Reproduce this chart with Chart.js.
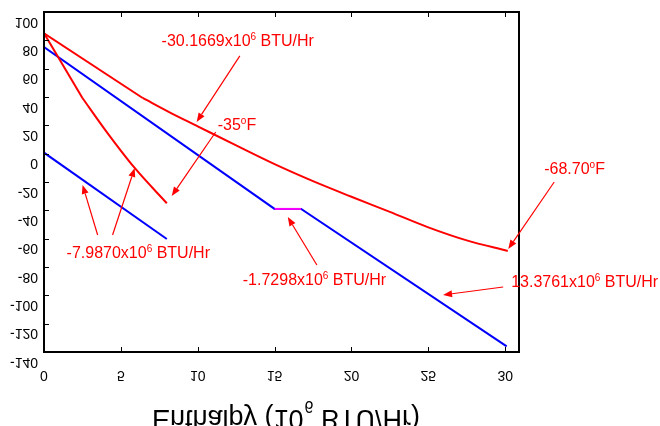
<!DOCTYPE html>
<html>
<head>
<meta charset="utf-8">
<script src="https://cdn.jsdelivr.net/npm/chart.js@4.4.0/dist/chart.umd.min.js"></script>
<style>
  html, body { margin: 0; padding: 0; background: #fff; }
  canvas { display: block; }
</style>
</head>
<body>
<canvas id="chart" width="660" height="426"></canvas>
<script>
// Long red curve (ends at -68.70 F), kink at the second point
const redLongX = [0, 6.42, 8.2, 10, 12.5, 15, 17.5, 20, 22.5, 25, 27.5, 30.17];
const redLongY = [85.0, 39.3, 29.0, 19.3, 5.8, -7.4, -19.4, -30.4, -41.1, -52.0, -61.2, -68.7];

// Short steep red curve (ends at -35 F), kink at the second point
const redShortX = [0, 2.5, 4, 5.9, 7.99];
const redShortY = [85.0, 39.3, 16.5, -10.1, -35.0];

// Long blue line with the flat part
const blueLongX = [0, 15.0, 16.73, 30.1];
const blueLongY = [75.3, -39.0, -39.0, -136.0];

// Flat part drawn in magenta
const flatX = [15.0, 16.73];
const flatY = [-39.0, -39.0];

// Short blue line
const blueShortX = [0, 7.99];
const blueShortY = [0.7, -60.2];

// Axis ticks
const xTicks = [0, 5, 10, 15, 20, 25, 30];
const yTicks = [100, 80, 60, 40, 20, 0, -20, -40, -60, -80, -100, -120, -140];

// Notes: text (^ marks superscript), where it starts, arrows from -> to (data units)
const noteText = [
	'-30.1669x10^6^ BTU/Hr',
	'-35^o^F',
	'-7.9870x10^6^ BTU/Hr',
	'-1.7298x10^6^ BTU/Hr',
	'-68.70^o^F',
	'13.3761x10^6^ BTU/Hr',
];
const noteAt = [[7.65, 76.0], [11.3, 16.7], [1.47, -73.6], [12.93, -92.7], [32.54, -14.3], [30.39, -94.1]];
const arrowFrom = [[12.74, 69.0], [11.17, 15.3], [3.49, -57.4], [4.46, -57.4], [17.75, -78.6], [33.19, -20.0], [29.87, -94.1]];
const arrowTo = [[9.93, 22.4], [8.31, -29.9], [2.51, -22.1], [5.9, -10.1], [15.86, -44.7], [30.2, -67.3], [25.96, -99.7]];

const FONT = '"Liberation Sans", Arial, sans-serif';

const toPoints = (xs, ys) => xs.map((x, i) => ({x: x, y: ys[i]}));

const makeSet = (xs, ys, color, order, smooth) => ({
	data: toPoints(xs, ys),
	borderColor: color,
	borderWidth: 2,
	pointRadius: 0,
	tension: 0,
	cubicInterpolationMode: smooth ? 'monotone' : 'default',
	fill: false,
	order: order,
});

// text drawn upside down (as in the original picture)
const flipText = (ctx, text, x, y) => {
	ctx.save();
	ctx.translate(x, y);
	ctx.scale(1, -1);
	ctx.fillText(text, 0, 0);
	ctx.restore();
};

const drawRich = (ctx, text, x, y, size) => {
	let cx = x;
	text.split('^').forEach((part, i) => {
		const sup = i % 2 == 1;
		ctx.font = `${sup ? Math.round(size * 0.62) : size}px ${FONT}`;
		ctx.fillText(part, cx, sup ? y - size * 0.38 : y);
		cx += ctx.measureText(part).width;
	});
};

const drawArrow = (ctx, x1, y1, x2, y2) => {
	const ang = Math.atan2(y2 - y1, x2 - x1);
	const len = 9;
	const half = 3.5;
	ctx.beginPath();
	ctx.moveTo(x1, y1);
	ctx.lineTo(x2 - Math.cos(ang) * len, y2 - Math.sin(ang) * len);
	ctx.stroke();
	ctx.beginPath();
	ctx.moveTo(x2, y2);
	ctx.lineTo(x2 - Math.cos(ang) * len - Math.sin(ang) * half, y2 - Math.sin(ang) * len + Math.cos(ang) * half);
	ctx.lineTo(x2 - Math.cos(ang) * len + Math.sin(ang) * half, y2 - Math.sin(ang) * len - Math.cos(ang) * half);
	ctx.closePath();
	ctx.fill();
};

const framePlugin = {
	id: 'frame',
	afterDraw: (chart) => {
		const ctx = chart.ctx;
		const area = chart.chartArea;
		const xs = chart.scales.x;
		const ys = chart.scales.y;
		ctx.save();

		// ticks pointing inwards
		ctx.strokeStyle = '#000';
		ctx.lineWidth = 1;
		ctx.beginPath();
		yTicks.forEach((v) => {
			const py = Math.round(ys.getPixelForValue(v)) + 0.5;
			ctx.moveTo(area.left, py);
			ctx.lineTo(area.left + 5, py);
		});
		xTicks.forEach((v) => {
			const px = Math.round(xs.getPixelForValue(v)) + 0.5;
			ctx.moveTo(px, area.bottom);
			ctx.lineTo(px, area.bottom - 5);
			ctx.moveTo(px, area.top);
			ctx.lineTo(px, area.top + 5);
		});
		ctx.stroke();

		// box
		ctx.lineWidth = 2;
		ctx.strokeRect(area.left, area.top, area.right - area.left, area.bottom - area.top);

		// tick labels
		ctx.fillStyle = '#000';
		ctx.font = `14px ${FONT}`;
		ctx.textBaseline = 'middle';
		ctx.textAlign = 'right';
		yTicks.forEach((v) => flipText(ctx, String(v), area.left - 6, ys.getPixelForValue(v) + 9.5));
		ctx.textAlign = 'center';
		xTicks.forEach((v) => flipText(ctx, String(v), xs.getPixelForValue(v), area.bottom + 23));

		// axis title, cut by the bottom edge
		ctx.textAlign = 'left';
		ctx.textBaseline = 'alphabetic';
		let tx = 152;
		ctx.font = `27px ${FONT}`;
		flipText(ctx, 'Enthalpy (10', tx, 410);
		tx += ctx.measureText('Enthalpy (10').width;
		ctx.font = `16px ${FONT}`;
		flipText(ctx, '6', tx + 1, 401);
		tx += ctx.measureText('6').width + 1;
		ctx.font = `27px ${FONT}`;
		flipText(ctx, ' BTU/Hr)', tx, 410);

		// red notes and arrows
		ctx.fillStyle = '#ff0000';
		ctx.strokeStyle = '#ff0000';
		ctx.lineWidth = 1.2;
		noteText.forEach((t, i) => {
			drawRich(ctx, t, xs.getPixelForValue(noteAt[i][0]), ys.getPixelForValue(noteAt[i][1]), 16);
		});
		arrowFrom.forEach((a, i) => {
			const b = arrowTo[i];
			drawArrow(
				ctx,
				xs.getPixelForValue(a[0]),
				ys.getPixelForValue(a[1]),
				xs.getPixelForValue(b[0]),
				ys.getPixelForValue(b[1]),
			);
		});
		ctx.restore();
	},
};

new Chart(document.getElementById('chart'), {
	type: 'line',
	data: {
		datasets: [
			makeSet(flatX, flatY, '#ff00ff', 0, false),
			// straight part up to the kink, then a smooth curve
			makeSet(redLongX.slice(0, 2), redLongY.slice(0, 2), '#ff0000', 1, false),
			makeSet(redLongX.slice(1), redLongY.slice(1), '#ff0000', 1, true),
			makeSet(redShortX.slice(0, 2), redShortY.slice(0, 2), '#ff0000', 2, false),
			makeSet(redShortX.slice(1), redShortY.slice(1), '#ff0000', 2, true),
			makeSet(blueLongX, blueLongY, '#0000ff', 3, false),
			makeSet(blueShortX, blueShortY, '#0000ff', 4, false),
		],
	},
	options: {
		responsive: false,
		animation: false,
		events: [],
		layout: {padding: {left: 44, top: 12, right: 141, bottom: 74}},
		plugins: {legend: {display: false}, tooltip: {enabled: false}},
		scales: {
			x: {type: 'linear', min: 0, max: 30.9, display: false},
			y: {type: 'linear', min: -140, max: 100, display: false},
		},
	},
	plugins: [framePlugin],
});
</script>
</body>
</html>
